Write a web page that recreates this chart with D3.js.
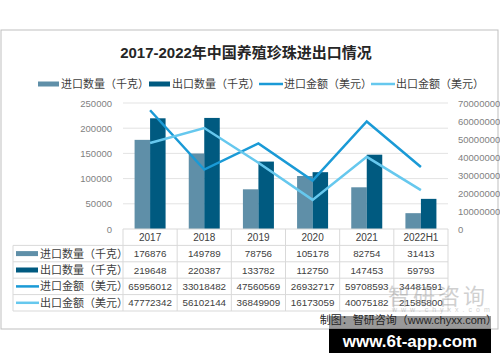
<!DOCTYPE html>
<html>
<head>
<meta charset="utf-8">
<script src="https://cdn.jsdelivr.net/npm/d3@7"></script>
<style>
  body { margin: 0; background: #fff; }
  svg text { font-family: "Liberation Sans", "Noto Sans CJK SC", sans-serif; }
</style>
</head>
<body>
<div id="chart"></div>
<script>
const years = ['2017', '2018', '2019', '2020', '2021', '2022H1'];
const importQty = [176876, 149789, 78756, 105178, 82754, 31413];
const exportQty = [219648, 220387, 133782, 112750, 147453, 59793];
const importAmt = [65956012, 33018482, 47560569, 26932717, 59708593, 34481591];
const exportAmt = [47772342, 56102144, 36849909, 16173059, 40075182, 21585800];
const leftTicks = [0, 50000, 100000, 150000, 200000, 250000];
const rightTicks = [0, 10000000, 20000000, 30000000, 40000000, 50000000, 60000000, 70000000];

const series = [
  { name: '进口数量（千克）', type: 'bar', values: importQty, color: '#5f8fa8' },
  { name: '出口数量（千克）', type: 'bar', values: exportQty, color: '#005a80' },
  { name: '进口金额（美元）', type: 'line', values: importAmt, color: '#1a9ad6' },
  { name: '出口金额（美元）', type: 'line', values: exportAmt, color: '#66c8ee' }
];

const W = 500, H = 362;
const plot = { left: 123, right: 448, top: 103, bottom: 229 };
const tableLeft = 13;
const rowH = 16.4;

const svg = d3.select('#chart').append('svg')
  .attr('width', W).attr('height', H);

// outer frame
svg.append('rect')
  .attr('x', 1).attr('y', 30).attr('width', 497).attr('height', 299)
  .attr('fill', '#fff').attr('stroke', '#bfbfbf').attr('stroke-width', 1);

// title
svg.append('text')
  .attr('x', 246).attr('y', 58)
  .attr('text-anchor', 'middle')
  .attr('font-size', 15).attr('font-weight', 'bold')
  .attr('fill', '#262626')
  .text('2017-2022年中国养殖珍珠进出口情况');

// legend
const legendX = [38, 149, 259, 371];
const legend = svg.append('g');
series.forEach((s, i) => {
  const g = legend.append('g').attr('transform', `translate(${legendX[i]},84)`);
  if (s.type === 'bar') {
    g.append('rect').attr('x', 0).attr('y', -2.5).attr('width', 21).attr('height', 5).attr('fill', s.color);
  } else {
    g.append('line').attr('x1', 0).attr('x2', 24).attr('y1', 0).attr('y2', 0)
      .attr('stroke', s.color).attr('stroke-width', 2.5);
  }
  g.append('text').attr('x', s.type === 'bar' ? 23 : 25).attr('y', 4)
    .attr('font-size', 11).attr('fill', '#404040').text(s.name);
});

// scales
const x = d3.scaleBand().domain(years).range([plot.left, plot.right]);
const yL = d3.scaleLinear().domain([0, 250000]).range([plot.bottom, plot.top]);
const yR = d3.scaleLinear().domain([0, 70000000]).range([plot.bottom, plot.top]);

// gridlines
svg.append('g').selectAll('line').data(leftTicks.slice(1)).join('line')
  .attr('x1', plot.left).attr('x2', plot.right)
  .attr('y1', d => yL(d)).attr('y2', d => yL(d))
  .attr('stroke', '#e3e3e3').attr('stroke-width', 1);

// left axis
const axL = svg.append('g').attr('transform', `translate(${plot.left - 11},0)`)
  .call(d3.axisLeft(yL).tickValues(leftTicks).tickFormat(d3.format('d')).tickSize(0).tickPadding(0));
axL.select('.domain').remove();
axL.selectAll('text').attr('font-size', 9.5).attr('fill', '#7f7f7f');

// right axis
const axR = svg.append('g').attr('transform', `translate(${plot.right + 10},0)`)
  .call(d3.axisRight(yR).tickValues(rightTicks).tickFormat(d3.format('d')).tickSize(0).tickPadding(0));
axR.select('.domain').remove();
axR.selectAll('text').attr('font-size', 9.5).attr('fill', '#7f7f7f');

// bars
const barW = 15.5;
const bars = svg.append('g');
[0, 1].forEach(k => {
  bars.selectAll(null).data(series[k].values).join('rect')
    .attr('x', (d, i) => x(years[i]) + x.bandwidth() / 2 + (k === 0 ? -barW : 0))
    .attr('y', d => yL(d))
    .attr('width', barW)
    .attr('height', d => yL(0) - yL(d))
    .attr('fill', series[k].color);
});

// lines
[2, 3].forEach(k => {
  svg.append('path')
    .datum(series[k].values)
    .attr('fill', 'none')
    .attr('stroke', series[k].color)
    .attr('stroke-width', 2.5)
    .attr('d', d3.line()
      .x((d, i) => x(years[i]) + x.bandwidth() / 2)
      .y(d => yR(d)));
});

// data table
const table = svg.append('g');
const tableBottom = plot.bottom + rowH * 5;
const gridColor = '#d9d9d9';
table.append('line').attr('x1', plot.left).attr('x2', plot.right)
  .attr('y1', plot.bottom).attr('y2', plot.bottom).attr('stroke', gridColor);
d3.range(1, 6).forEach(r => {
  table.append('line').attr('x1', tableLeft).attr('x2', plot.right)
    .attr('y1', plot.bottom + r * rowH).attr('y2', plot.bottom + r * rowH)
    .attr('stroke', gridColor);
});
table.append('line').attr('x1', tableLeft).attr('x2', tableLeft)
  .attr('y1', plot.bottom + rowH).attr('y2', tableBottom).attr('stroke', gridColor);
d3.range(years.length + 1).forEach(i => {
  const xx = plot.left + i * x.bandwidth();
  table.append('line').attr('x1', xx).attr('x2', xx)
    .attr('y1', plot.bottom).attr('y2', tableBottom).attr('stroke', gridColor);
});
table.selectAll(null).data(years).join('text')
  .attr('x', d => x(d) + x.bandwidth() / 2)
  .attr('y', plot.bottom + rowH / 2 + 3.5)
  .attr('text-anchor', 'middle').attr('font-size', 10).attr('fill', '#404040')
  .text(d => d);
series.forEach((s, r) => {
  const cy = plot.bottom + (r + 1) * rowH + rowH / 2;
  if (s.type === 'bar') {
    table.append('rect').attr('x', 16).attr('y', cy - 2.5).attr('width', 22).attr('height', 5).attr('fill', s.color);
  } else {
    table.append('line').attr('x1', 16).attr('x2', 39).attr('y1', cy).attr('y2', cy)
      .attr('stroke', s.color).attr('stroke-width', 2.5);
  }
  table.append('text').attr('x', 40).attr('y', cy + 4)
    .attr('font-size', 11).attr('fill', '#404040').text(s.name);
  table.selectAll(null).data(s.values).join('text')
    .attr('x', (d, i) => x(years[i]) + x.bandwidth() / 2)
    .attr('y', cy + 3.5)
    .attr('text-anchor', 'middle').attr('font-size', 9.8).attr('fill', '#404040')
    .text(d => d);
});

// watermark
svg.append('text').attr('x', 388).attr('y', 304)
  .attr('font-size', 22).attr('fill', '#8c8c8c').attr('opacity', 0.4)
  .attr('letter-spacing', 3).text('智研咨询');
svg.append('text').attr('x', 392).attr('y', 312)
  .attr('font-size', 7).attr('fill', '#8c8c8c').attr('opacity', 0.4)
  .attr('letter-spacing', 4).text('www.chyxx.com');

// banner
svg.append('rect').attr('x', 329).attr('y', 316).attr('width', 162).attr('height', 14)
  .attr('fill', '#000').attr('opacity', 0.4);
svg.append('rect').attr('x', 329).attr('y', 329).attr('width', 162).attr('height', 24)
  .attr('fill', '#000');

// source
svg.append('text').attr('x', 497).attr('y', 324)
  .attr('text-anchor', 'end').attr('font-size', 11).attr('fill', '#262626')
  .text('制图：智研咨询（www.chyxx.com）');

svg.append('text').attr('x', 410).attr('y', 347)
  .attr('text-anchor', 'middle').attr('font-size', 17).attr('font-weight', 'bold')
  .attr('fill', '#fff').text('www.6t-app.com');
</script>
</body>
</html>
